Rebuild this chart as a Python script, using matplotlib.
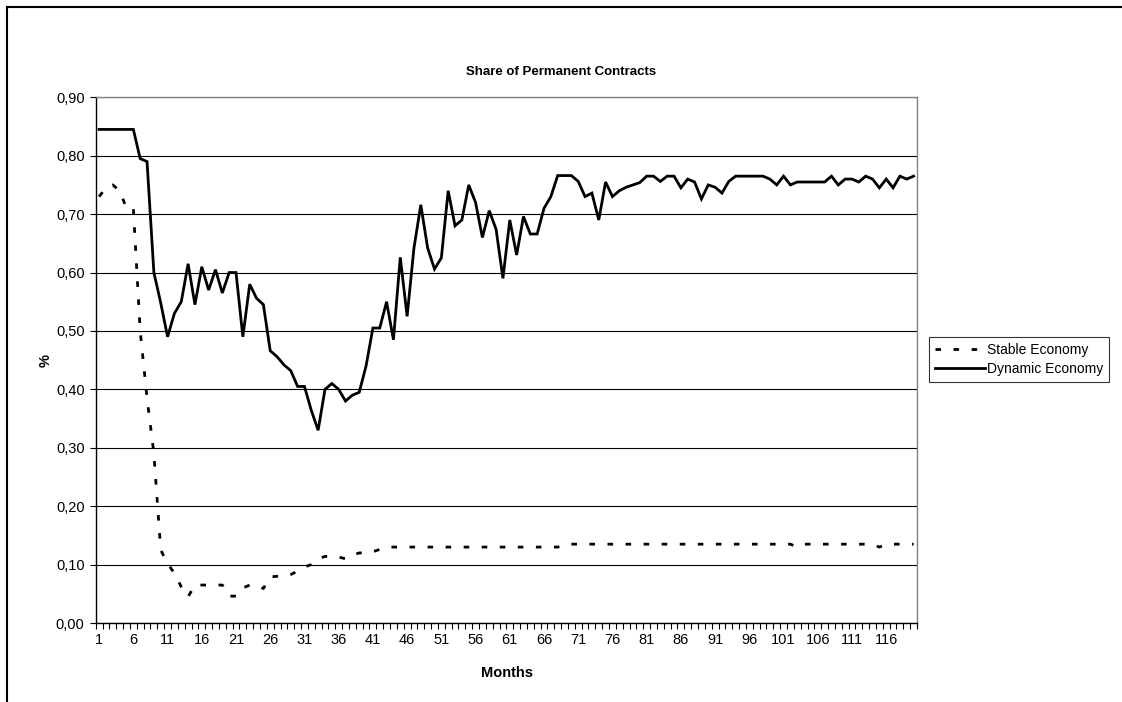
import matplotlib
matplotlib.use("Agg")
import matplotlib.pyplot as plt
from matplotlib.lines import Line2D
from matplotlib.ticker import FuncFormatter

plt.rcParams['font.family'] = ['Liberation Sans', 'DejaVu Sans']

# data
months = list(range(1, 121))

stable = [0.73, 0.745, 0.75, 0.74, 0.71, 0.71, 0.50, 0.385, 0.29, 0.125,
          0.102, 0.085, 0.062, 0.045, 0.065, 0.065, 0.065, 0.065, 0.065, 0.046,
          0.046, 0.06, 0.065, 0.065, 0.059, 0.079, 0.08, 0.08, 0.083, 0.089,
          0.096, 0.10, 0.11, 0.114, 0.114, 0.113, 0.11, 0.116, 0.12, 0.12,
          0.122, 0.126, 0.13, 0.13, 0.13, 0.13, 0.13, 0.13, 0.13, 0.13,
          0.13, 0.13, 0.13, 0.13, 0.13, 0.13, 0.13, 0.13, 0.13, 0.13,
          0.13, 0.13, 0.13, 0.13, 0.13, 0.13, 0.13, 0.13, 0.135, 0.135,
          0.135, 0.135, 0.135, 0.135, 0.135, 0.135, 0.135, 0.135, 0.135, 0.135,
          0.135, 0.135, 0.135, 0.135, 0.135, 0.135, 0.135, 0.135, 0.135, 0.135,
          0.135, 0.135, 0.135, 0.135, 0.135, 0.135, 0.135, 0.135, 0.135, 0.135,
          0.135, 0.135, 0.13, 0.135, 0.135, 0.135, 0.135, 0.135, 0.135, 0.135,
          0.135, 0.135, 0.135, 0.135, 0.13, 0.135, 0.135, 0.135, 0.135, 0.135]

dynamic = [0.845, 0.845, 0.845, 0.845, 0.845, 0.845, 0.795, 0.79, 0.60, 0.548,
           0.49, 0.53, 0.55, 0.615, 0.545, 0.61, 0.57, 0.605, 0.565, 0.60,
           0.60, 0.49, 0.58, 0.556, 0.545, 0.466, 0.456, 0.442, 0.432, 0.405,
           0.405, 0.364, 0.33, 0.40, 0.41, 0.40, 0.38, 0.39, 0.395, 0.44,
           0.505, 0.505, 0.55, 0.485, 0.626, 0.525, 0.642, 0.716, 0.642, 0.606,
           0.625, 0.74, 0.68, 0.69, 0.75, 0.72, 0.66, 0.706, 0.674, 0.59,
           0.69, 0.63, 0.696, 0.666, 0.666, 0.71, 0.73, 0.766, 0.766, 0.766,
           0.756, 0.73, 0.736, 0.69, 0.755, 0.73, 0.74, 0.746, 0.75, 0.754,
           0.765, 0.765, 0.756, 0.765, 0.765, 0.745, 0.76, 0.755, 0.726, 0.75,
           0.746, 0.736, 0.756, 0.765, 0.765, 0.765, 0.765, 0.765, 0.76, 0.75,
           0.765, 0.75, 0.755, 0.755, 0.755, 0.755, 0.755, 0.765, 0.75, 0.76,
           0.76, 0.755, 0.765, 0.76, 0.745, 0.76, 0.745, 0.765, 0.76, 0.765]

label_months = list(range(1, 121, 5))
y_ticks = [0.0, 0.1, 0.2, 0.3, 0.4, 0.5, 0.6, 0.7, 0.8, 0.9]

fig = plt.figure(figsize=(11.22, 7.02), dpi=100)
ax = fig.add_axes([0.0853, 0.1125, 0.7320, 0.7489])

ax.plot(months, stable, color='black', lw=2.0, linestyle=(0, (2.0, 4.5)),
        label='Stable Economy', zorder=3)
ax.plot(months, dynamic, color='black', lw=2.0, label='Dynamic Economy',
        solid_joinstyle='miter', zorder=3)

ax.set_xlim(0.5, 120.5)
ax.set_ylim(0, 0.9)

# category tick marks between months, labels every 5 months
ax.set_xticks([m - 0.5 for m in months] + [120.5])
ax.set_xticklabels([])
ax.tick_params(axis='x', which='major', length=4, width=0.8, direction='out')
ax.set_xticks(label_months, minor=True)
ax.set_xticklabels([str(m) for m in label_months], minor=True, fontsize=10.5)
ax.tick_params(axis='x', which='minor', length=0, pad=7)

ax.set_yticks(y_ticks)
ax.yaxis.set_major_formatter(FuncFormatter(lambda v, p: f"{v:.2f}".replace('.', ',')))
ax.tick_params(axis='y', length=4, width=0.8, direction='out', labelsize=10.5, pad=4)

ax.grid(axis='y', color='black', lw=0.8)
ax.set_axisbelow(True)
for side in ['top', 'right']:
    ax.spines[side].set_color('#808080')
    ax.spines[side].set_linewidth(1.0)
for side in ['left', 'bottom']:
    ax.spines[side].set_color('black')
    ax.spines[side].set_linewidth(1.0)

fig.text(0.5, 0.897, "Share of Permanent Contracts", ha='center', va='center',
         fontsize=9.5, weight='bold')
fig.text(0.452, 0.042, "Months", ha='center', va='center', fontsize=10.5, weight='bold')
fig.text(0.041, 0.487, "%", ha='center', va='center', fontsize=10.5, weight='bold',
         rotation=90)

leg = fig.legend(loc='upper left', bbox_to_anchor=(0.828, 0.520), fontsize=10,
                 frameon=True, fancybox=False, handlelength=3.6, handletextpad=0.1,
                 borderpad=0.45, labelspacing=0.35, borderaxespad=0)
leg.get_frame().set_edgecolor('black')
leg.get_frame().set_linewidth(0.8)

# outer chart frame (left and top edges visible)
fig.add_artist(Line2D([7 / 1122, 7 / 1122], [0, 1 - 7 / 702], color='black', lw=1.5,
                      transform=fig.transFigure))
fig.add_artist(Line2D([7 / 1122, 1], [1 - 7 / 702, 1 - 7 / 702], color='black', lw=1.5,
                      transform=fig.transFigure))

fig.savefig("out.png", dpi=100)
plt.close(fig)
